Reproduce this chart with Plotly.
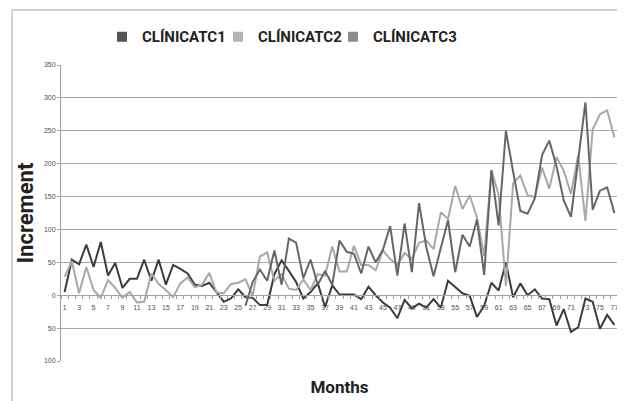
import plotly.graph_objects as go

months = list(range(1, 78))

clinica_c1 = [5, 54, 47, 77, 43, 81, 30, 49, 11, 25, 25, 54, 22, 54, 16, 46, 40, 33, 16, 14,
              19, 4, -10, -5, 9, -3, -4, -15, -15, 32, 53, 37, 20, -5, 5, 18, -18, 15, 1, 1,
              1, -6, 13, 0, -11, -19, -35, -7, -20, -13, -19, -6, -19, 22, 12, 3, -1, -33, -16, 19,
              7, 50, -3, 18, 0, 9, -5, -6, -46, -21, -56, -49, -5, -10, -51, -30, -45]

clinica_c2 = [28, 52, 3, 43, 8, -4, 23, 11, -4, 5, -11, -10, 33, 17, 8, -3, 18, 27, 12, 16,
              34, 4, 3, 17, 19, 24, -1, 59, 65, 22, 32, 10, 8, 24, 8, 32, 30, 74, 36, 36,
              75, 46, 46, 38, 68, 55, 46, 64, 55, 80, 83, 70, 126, 116, 166, 131, 152, 118, 60, 190,
              153, 14, 170, 182, 152, 149, 194, 162, 210, 189, 154, 213, 113, 252, 275, 281, 240]

clinica_c3 = [None] * 25 + [-16, 20, 39, 22, 68, 16, 86, 80, 26, 54, 16, 37, 16, 83, 66,
              63, 33, 74, 50, 69, 105, 30, 109, 35, 140, 73, 29, 71, 114, 35, 92, 74, 115, 31, 190,
              106, 250, 188, 128, 124, 147, 213, 235, 196, 144, 119, 205, 293, 130, 159, 164, 125]

series_names = ["CLÍNICATC1", "CLÍNICATC2", "CLÍNICATC3"]
series_colors = ["#3c3c3c", "#a8a8a8", "#666666"]
legend_colors = ["#555555", "#b4b4b4", "#8c8c8c"]
legend_ids = ["legend", "legend2", "legend3"]
legend_left_px = [102, 218, 333]

x_tick_vals = list(range(1, 78, 2))
x_tick_text = [str(v) for v in x_tick_vals]
y_tick_vals = [-100, -50, 0, 50, 100, 150, 200, 250, 300, 350]
y_tick_text = ["100", "50", "0", "50", "100", "150", "200", "250", "300", "350"]

fig = go.Figure()
for name, vals, col in zip(series_names, [clinica_c1, clinica_c2, clinica_c3], series_colors):
    fig.add_trace(go.Scatter(x=months, y=vals, mode="lines", name=name,
                             line=dict(color=col, width=2), showlegend=False,
                             connectgaps=False))
for name, col, lid in zip(series_names, legend_colors, legend_ids):
    fig.add_trace(go.Scatter(x=[None], y=[None], mode="markers", name=name, legend=lid,
                             marker=dict(symbol="square", size=10, color=col)))

font_bold = "Roboto, Liberation Sans, sans-serif"
border_col = "#c4c4c4"

legend_style = dict(orientation="h", xanchor="left", y=1.095, yanchor="middle",
                    font=dict(family=font_bold, size=15, color="#222222", weight="bold"),
                    itemwidth=30, bgcolor="rgba(0,0,0,0)")

fig.update_layout(
    width=617, height=393,
    margin=dict(l=53, r=7, t=57, b=40),
    paper_bgcolor="white", plot_bgcolor="white",
    showlegend=True,
    legend=dict(x=(legend_left_px[0] - 61) / 557.0, **legend_style),
    legend2=dict(x=(legend_left_px[1] - 61) / 557.0, **legend_style),
    legend3=dict(x=(legend_left_px[2] - 61) / 557.0, **legend_style),
    xaxis=dict(range=[0.5, 77.5], tickvals=x_tick_vals, ticktext=x_tick_text,
               anchor="free", position=(0 - (-100)) / 450.0,
               showgrid=False, zeroline=False, showline=True, linecolor="#a0a0a0",
               ticks="", ticklabelstandoff=5,
               tickfont=dict(family="Liberation Sans", size=7, color="#505050"),
               minor=dict(tickvals=[m + 0.5 for m in range(0, 78)], ticks="outside",
                          ticklen=3, tickcolor="#a0a0a0", showgrid=False),
               title=dict(text="Months", standoff=71,
                          font=dict(family=font_bold, size=17, color="#222222", weight="bold")),
               automargin=False),
    yaxis=dict(range=[-100, 350], tickvals=y_tick_vals, ticktext=y_tick_text,
               showgrid=True, gridcolor="#a8a8a8", gridwidth=1, zeroline=False,
               showline=True, linecolor="#a0a0a0", ticks="outside", ticklen=3,
               tickcolor="#a0a0a0",
               tickfont=dict(family="Liberation Sans", size=7, color="#505050"),
               title=dict(text="Increment", standoff=4,
                          font=dict(family=font_bold, size=22, color="#222222", weight="bold")),
               automargin=False),
    shapes=[
        dict(type="line", xref="paper", yref="paper",
             x0=(12 - 61) / 557.0, x1=1.2, y0=(361 - 10) / 296.0, y1=(361 - 10) / 296.0,
             line=dict(color=border_col, width=1.5), layer="above"),
        dict(type="line", xref="paper", yref="paper",
             x0=(12 - 61) / 557.0, x1=(12 - 61) / 557.0, y0=-0.3, y1=(361 - 10) / 296.0,
             line=dict(color=border_col, width=1.5), layer="above"),
    ],
)

fig.write_html("out.html")
